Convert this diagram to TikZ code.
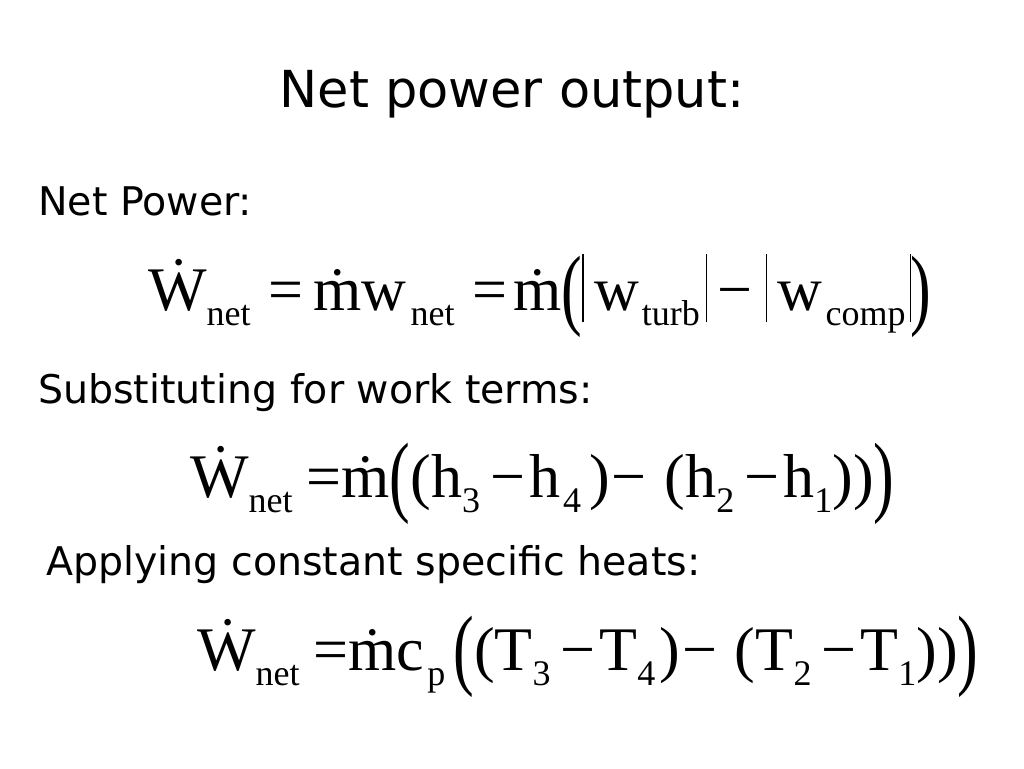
\documentclass[tikz,border=0pt]{standalone}
\usepackage{fontspec}
\usepackage{graphicx}
\setmainfont{DejaVu Sans}
\newfontfamily\eqfont{Liberation Serif}
\newcommand\sbx[1]{\raisebox{-0.55ex}{\fontsize{36}{36}\selectfont #1}}
\newcommand\bigp[1]{\raisebox{-0.14em}{\scalebox{1}[1.45]{#1}}}
\newcommand\absbar{\rule[-0.2em]{1.2pt}{1.1em}}
\tikzset{
  title/.style={font=\fontsize{51}{51}\selectfont, anchor=base},
  caption/.style={font=\fontsize{39.5}{39.5}\selectfont, anchor=base west, inner sep=0pt},
  formula/.style={font=\eqfont\fontsize{62}{62}\selectfont, anchor=base west, inner sep=0pt}
}
\begin{document}
\begin{tikzpicture}[x=1pt,y=-1pt]
  \useasboundingbox (0,0) rectangle (1024,768);
  % Title and captions
  \node[title]   (head) at (512,107) {Net power output:};
  \node[caption] (cap1) at (38,215)  {Net Power:};
  \node[caption] (cap2) at (38,403)  {Substituting for work terms:};
  \node[caption] (cap3) at (46,575)  {Applying constant specific heats:};
  % Equations
  \node[formula] (eq1) at (148,310) {\.{W}\sbx{net}\hspace{18pt}=\hspace{10pt}\.{m}w\hspace{4pt}\sbx{net}\hspace{18pt}=\hspace{6pt}\.{m}\bigp{(}\absbar\,w\hspace{3pt}\sbx{turb}\hspace{6pt}\absbar\,−\hspace{14pt}\absbar\,w\hspace{3pt}\sbx{comp}\hspace{4pt}\absbar\bigp{)}};
  \node[formula] (eq2) at (190,497) {\.{W}\sbx{net}\hspace{14pt}=\.{m}\bigp{(}(h\sbx{3}\hspace{10pt}−\hspace{4pt}h\hspace{3pt}\sbx{4}\hspace{8pt})\hspace{2pt}−\hspace{18pt}(h\sbx{2}\hspace{10pt}−\hspace{4pt}h\sbx{1}))\bigp{)}};
  \node[formula] (eq3) at (197,670) {\.{W}\sbx{net}\hspace{14pt}=\.{m}c\hspace{3pt}\sbx{p}\hspace{8pt}\bigp{(}(T\sbx{3}\hspace{10pt}−\hspace{4pt}T\sbx{4}\hspace{4pt})\hspace{2pt}−\hspace{18pt}(T\sbx{2}\hspace{10pt}−\hspace{4pt}T\sbx{1}))\bigp{)}};
\end{tikzpicture}
\end{document}
